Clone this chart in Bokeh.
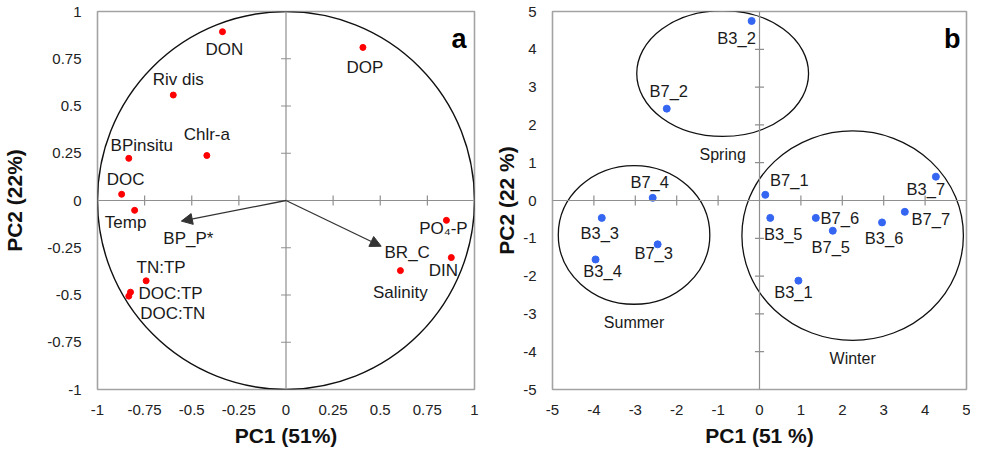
import pandas as pd
from bokeh.plotting import figure
from bokeh.models import ColumnDataSource, Range1d, FixedTicker, Span, Arrow, NormalHead
from bokeh.layouts import row
from bokeh.core.properties import value
from bokeh.embed import file_html
from bokeh.resources import INLINE

FONT = "Liberation Sans"

# ---------------- Panel a : variable loadings ----------------
var_names = ["DON", "DOP", "Riv dis", "Chlr-a", "BPinsitu", "DOC", "Temp",
             "PO\u2084-P", "DIN", "Salinity", "TN:TP", "DOC:TP", "DOC:TN"]
var_pc1 = [-0.337, 0.408, -0.598, -0.42, -0.834, -0.872, -0.803,
           0.851, 0.877, 0.607, -0.742, -0.825, -0.834]
var_pc2 = [0.893, 0.81, 0.558, 0.238, 0.223, 0.033, -0.052,
           -0.105, -0.302, -0.371, -0.425, -0.485, -0.506]

arrow_names = ["BP_P*", "BR_C"]
arrow_pc1 = [-0.555, 0.505]
arrow_pc2 = [-0.109, -0.242]

circle_x = [0.0]
circle_y = [0.0]
circle_r = [1.0]

ticks_a = [-1, -0.75, -0.5, -0.25, 0, 0.25, 0.5, 0.75, 1]
tick_labels_a = ["-1", "-0.75", "-0.5", "-0.25", "0", "0.25", "0.5", "0.75", "1"]

# ---------------- Panel b : sample scores ----------------
site_names = ["B3_2", "B7_2", "B7_1", "B3_7", "B7_4", "B3_3", "B3_5",
              "B7_6", "B7_5", "B3_6", "B7_7", "B7_3", "B3_4", "B3_1"]
site_pc1 = [-0.19, -2.24, 0.14, 4.26, -2.58, -3.81, 0.26,
            1.36, 1.77, 2.96, 3.51, -2.46, -3.96, 0.94]
site_pc2 = [4.75, 2.43, 0.15, 0.63, 0.07, -0.46, -0.46,
            -0.46, -0.80, -0.58, -0.30, -1.16, -1.56, -2.12]

season_names = ["Spring", "Summer", "Winter"]
season_cx = [-0.89, -3.03, 2.25]
season_cy = [3.36, -0.91, -0.93]
season_w = [4.15, 3.66, 5.35]
season_h = [3.33, 3.67, 5.54]

ticks_b = [-5, -4, -3, -2, -1, 0, 1, 2, 3, 4, 5]
tick_labels_b = [str(t) for t in ticks_b]

# ---------------- label placement (screen pixel offsets) ----------------
var_off = {"DON": (2, 18), "DOP": (2, 20), "Riv dis": (5, -16), "Chlr-a": (0, -21),
           "BPinsitu": (13, -13), "DOC": (4, -15), "Temp": (-9, 12),
           "PO\u2084-P": (-3, 8), "DIN": (-8, 13), "Salinity": (0, 22),
           "TN:TP": (15, -13), "DOC:TP": (40, 1), "DOC:TN": (44, 17)}
arrow_off = {"BP_P*": (7, 17), "BR_C": (26, 6)}
site_off = {"B3_2": (-15, 17), "B7_2": (2, -18), "B7_1": (24, -15), "B3_7": (-10, 12),
            "B7_4": (-3, -16), "B3_3": (-2, 15), "B3_5": (13, 16), "B7_6": (24, 0),
            "B7_5": (-2, 16), "B3_6": (2, 16), "B7_7": (26, 7), "B7_3": (-4, 9),
            "B3_4": (7, 12), "B3_1": (-5, 11)}

GRAY = "#a3a3a3"
AXGRAY = "#8f8f8f"
TXT = "#1a1a1a"


def make_fig(width, lo, hi, ticks, labels, xtitle, ytitle, ml, mr, ylab_stand):
    p = figure(width=width, height=449, x_range=Range1d(lo, hi), y_range=Range1d(lo, hi),
               output_backend="svg", toolbar_location=None,
               min_border_left=ml, min_border_right=mr, min_border_top=11, min_border_bottom=52)
    p.grid.visible = False
    p.outline_line_color = GRAY
    p.outline_line_width = 1.6
    for ax in (p.xaxis[0], p.yaxis[0]):
        ax.ticker = FixedTicker(ticks=ticks)
        ax.major_label_overrides = {t: l for t, l in zip(ticks, labels)}
        ax.axis_line_color = None
        ax.major_tick_line_color = None
        ax.minor_tick_line_color = None
        ax.major_label_text_font = FONT
        ax.major_label_text_font_size = "15px"
        ax.major_label_text_color = "#222222"
        ax.axis_label_text_font = FONT
        ax.axis_label_text_font_style = "bold"
        ax.axis_label_text_font_size = "21px"
        ax.axis_label_text_color = "#111111"
    p.xaxis[0].axis_label = xtitle
    p.yaxis[0].axis_label = ytitle
    p.xaxis[0].major_label_standoff = 9
    p.yaxis[0].major_label_standoff = 10
    p.xaxis[0].axis_label_standoff = 6
    p.yaxis[0].axis_label_standoff = ylab_stand
    p.add_layout(Span(location=0, dimension="width", line_color=AXGRAY, line_width=1.2))
    p.add_layout(Span(location=0, dimension="height", line_color=AXGRAY, line_width=1.2))
    return p


def center_ticks(p, ticks, tl_x, tl_y):
    inner = [t for t in ticks if t not in (0, ticks[0], ticks[-1])]
    p.segment(x0=inner, x1=inner, y0=[-tl_y] * len(inner), y1=[tl_y] * len(inner),
              line_color=AXGRAY, line_width=1.2)
    p.segment(x0=[-tl_x] * len(inner), x1=[tl_x] * len(inner), y0=inner, y1=inner,
              line_color=AXGRAY, line_width=1.2)


# ---------------- build panel a ----------------
pa = make_fig(492, -1, 1, ticks_a, tick_labels_a, "PC1 (51%)", "PC2 (22%)", 89, 18, 18)
center_ticks(pa, ticks_a, 0.026, 0.026)

pa.ellipse(x=circle_x, y=circle_y, width=[2 * r for r in circle_r],
           height=[2 * r for r in circle_r], fill_color=None, line_color="#111111", line_width=1.4)

arr_src = ColumnDataSource(dict(x0=[0.0] * len(arrow_names), y0=[0.0] * len(arrow_names),
                                x1=arrow_pc1, y1=arrow_pc2))
pa.add_layout(Arrow(source=arr_src, x_start="x0", y_start="y0", x_end="x1", y_end="y1",
                    line_color="#333333", line_width=1.3,
                    end=NormalHead(size=11, fill_color="#333333", line_color="#333333")))

dfa = pd.DataFrame(dict(x=var_pc1, y=var_pc2, text=var_names))
dfa["dx"] = [var_off[n][0] for n in var_names]
dfa["dy"] = [var_off[n][1] for n in var_names]
pa.scatter("x", "y", source=ColumnDataSource(dfa), size=6, color="#ff0000")
pa.text("x", "y", text="text", x_offset="dx", y_offset="dy", source=ColumnDataSource(dfa),
        text_font=value(FONT), text_font_size="17px", text_color=TXT,
        text_align="center", text_baseline="middle")

dfa2 = pd.DataFrame(dict(x=arrow_pc1, y=arrow_pc2, text=arrow_names))
dfa2["dx"] = [arrow_off[n][0] for n in arrow_names]
dfa2["dy"] = [arrow_off[n][1] for n in arrow_names]
pa.text("x", "y", text="text", x_offset="dx", y_offset="dy", source=ColumnDataSource(dfa2),
        text_font=value(FONT), text_font_size="17px", text_color=TXT,
        text_align="center", text_baseline="middle")

pa.text(x=[1], y=[1], text=["a"], x_offset=-8, y_offset=12, text_font=value(FONT),
        text_font_style="bold", text_font_size="27px", text_color="#000000",
        text_align="right", text_baseline="top")

# ---------------- build panel b ----------------
pb = make_fig(478, -5, 5, ticks_b, tick_labels_b, "PC1 (51 %)", "PC2 (22 %)", 52, 4, 2)
center_ticks(pb, ticks_b, 0.11, 0.13)

pb.ellipse(x=season_cx, y=season_cy, width=season_w, height=season_h,
           fill_color=None, line_color="#111111", line_width=1.3)

dfs = pd.DataFrame(dict(x=season_cx, y=[c - h / 2 for c, h in zip(season_cy, season_h)],
                        text=season_names))
pb.text("x", "y", text="text", y_offset=18, source=ColumnDataSource(dfs),
        text_font=value(FONT), text_font_size="16px", text_color=TXT,
        text_align="center", text_baseline="middle")

dfb = pd.DataFrame(dict(x=site_pc1, y=site_pc2, text=site_names))
dfb["dx"] = [site_off[n][0] for n in site_names]
dfb["dy"] = [site_off[n][1] for n in site_names]
pb.scatter("x", "y", source=ColumnDataSource(dfb), size=7, color="#3466f2")
pb.text("x", "y", text="text", x_offset="dx", y_offset="dy", source=ColumnDataSource(dfb),
        text_font=value(FONT), text_font_size="16.5px", text_color=TXT,
        text_align="center", text_baseline="middle")

pb.text(x=[5], y=[5], text=["b"], x_offset=-6, y_offset=12, text_font=value(FONT),
        text_font_style="bold", text_font_size="27px", text_color="#000000",
        text_align="right", text_baseline="top")

layout = row(pa, pb)
open("out.html", "w").write(file_html(layout, INLINE))
